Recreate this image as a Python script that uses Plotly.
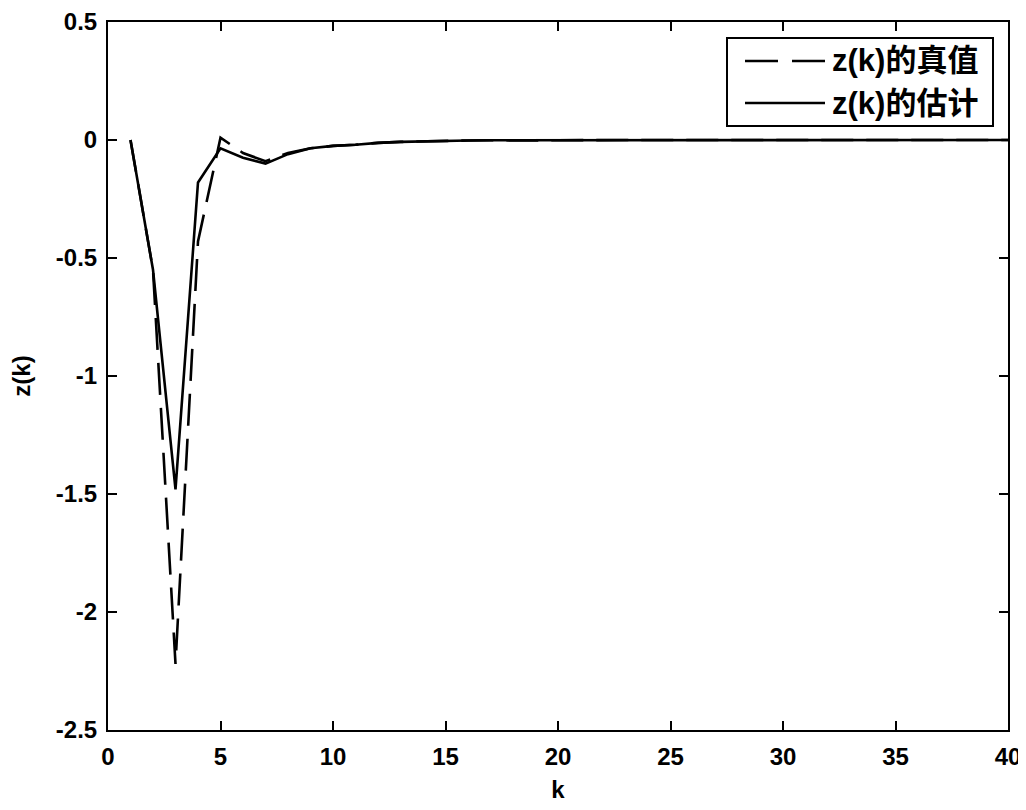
import plotly.graph_objects as go

# sample index
k = list(range(1, 41))

# z(k) true value (dashed)
z_true = [0.0, -0.55, -2.22, -0.43, 0.01, -0.055, -0.09, -0.055, -0.035, -0.025,
          -0.02, -0.012, -0.008, -0.005, -0.003, -0.002, -0.001, -0.003, -0.002, -0.001,
          0.0, 0.0, 0.0, 0.0, 0.0, 0.0, 0.0, 0.0, 0.0, 0.0,
          0.0, 0.0, 0.0, 0.0, 0.0, 0.0, 0.0, 0.0, 0.0, 0.0]

# z(k) estimate (solid)
z_est = [0.0, -0.55, -1.48, -0.18, -0.035, -0.075, -0.1, -0.06, -0.035, -0.025,
         -0.02, -0.012, -0.008, -0.005, -0.003, -0.002, -0.001, -0.001, -0.001, 0.0,
         0.0, 0.0, 0.0, 0.0, 0.0, 0.0, 0.0, 0.0, 0.0, 0.0,
         0.0, 0.0, 0.0, 0.0, 0.0, 0.0, 0.0, 0.0, 0.0, 0.0]

x_ticks = [0, 5, 10, 15, 20, 25, 30, 35, 40]
y_ticks = [0.5, 0, -0.5, -1, -1.5, -2, -2.5]
y_tick_text = ["0.5", "0", "-0.5", "-1", "-1.5", "-2", "-2.5"]
legend_names = ["z(k)的真值", "z(k)的估计"]

FONT = "Liberation Sans, Arial, Noto Sans CJK SC"
# the page body adds an 8px offset, margins are set so the plot box lands
# at screen x 108..1008, y 22..730
OFF = 8
L, R, T, B = 100, 26, 14, 88
W, H = 1026, 810
PW, PH = W - L - R, H - T - B


def px_x(p):
    return (p - OFF - L) / PW


def px_y(p):
    return (H - B - (p - OFF)) / PH


fig = go.Figure()
fig.add_trace(go.Scatter(x=k, y=z_true, mode="lines", name=legend_names[0],
                         line=dict(color="black", width=2.6, dash="32px,13px")))
fig.add_trace(go.Scatter(x=k, y=z_est, mode="lines", name=legend_names[1],
                         line=dict(color="black", width=2.6)))

# hand-made legend box (matlab style, long line samples)
shapes = [
    dict(type="rect", xref="paper", yref="paper",
         x0=px_x(727), x1=px_x(993), y0=px_y(126), y1=px_y(38),
         line=dict(color="black", width=2), fillcolor="white", layer="above"),
    dict(type="line", xref="paper", yref="paper",
         x0=px_x(745), x1=px_x(778), y0=px_y(61), y1=px_y(61),
         line=dict(color="black", width=2.5), layer="above"),
    dict(type="line", xref="paper", yref="paper",
         x0=px_x(792), x1=px_x(825), y0=px_y(61), y1=px_y(61),
         line=dict(color="black", width=2.5), layer="above"),
    dict(type="line", xref="paper", yref="paper",
         x0=px_x(745), x1=px_x(825), y0=px_y(103), y1=px_y(103),
         line=dict(color="black", width=2.5), layer="above"),
]
annotations = [
    dict(xref="paper", yref="paper", x=px_x(830), y=px_y(61), xanchor="left",
         yanchor="middle", showarrow=False, text="<b>" + legend_names[0] + "</b>",
         font=dict(family=FONT, size=31, color="black")),
    dict(xref="paper", yref="paper", x=px_x(830), y=px_y(103), xanchor="left",
         yanchor="middle", showarrow=False, text="<b>" + legend_names[1] + "</b>",
         font=dict(family=FONT, size=31, color="black")),
]

axis_style = dict(showline=True, linecolor="black", linewidth=2, mirror="ticks",
                  ticks="inside", ticklen=9, tickwidth=2, tickcolor="black",
                  showgrid=False, zeroline=False, ticklabelstandoff=4,
                  automargin=False,
                  tickfont=dict(family=FONT, size=24, color="black", weight="bold"))

fig.update_layout(
    width=W, height=H,
    margin=dict(l=L, r=R, t=T, b=B),
    paper_bgcolor="white", plot_bgcolor="white",
    showlegend=False,
    shapes=shapes, annotations=annotations,
    xaxis=dict(range=[0, 40], tickvals=x_ticks,
               title=dict(text="<b>k</b>", standoff=12,
                          font=dict(family=FONT, size=24, color="black")),
               **axis_style),
    yaxis=dict(range=[-2.5, 0.5], tickvals=y_ticks, ticktext=y_tick_text,
               title=dict(text="<b>z(k)</b>", standoff=22,
                          font=dict(family=FONT, size=24, color="black")),
               **axis_style),
)

fig.write_html("out.html")
